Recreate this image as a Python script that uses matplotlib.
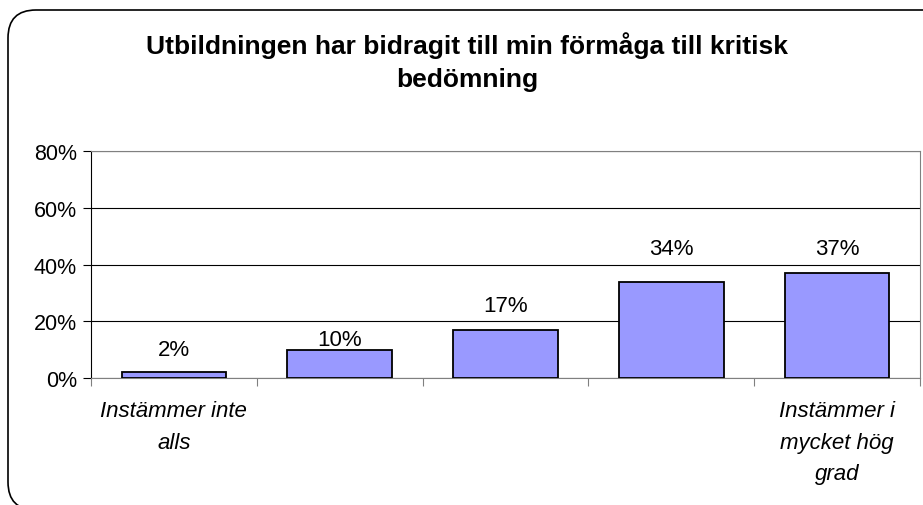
import matplotlib.pyplot as plt
from matplotlib.patches import FancyBboxPatch
from matplotlib.ticker import FixedLocator, PercentFormatter

# Survey answers, share of respondents (%)
categories = ["Instämmer inte\nalls", "", "", "", "Instämmer i\nmycket hög\ngrad"]
values = [2, 10, 17, 34, 37]
value_labels = ["2%", "10%", "17%", "34%", "37%"]
title = "Utbildningen har bidragit till min förmåga till kritisk\nbedömning"

# Label offsets above bar tops, in points (Excel placed them unevenly)
label_offsets = [9, 0, 10, 16, 10]

plt.rcParams['font.family'] = ['Liberation Sans', 'DejaVu Sans']

W, H = 923, 506
fig = plt.figure(figsize=(W / 100, H / 100), dpi=100)

# Rounded chart border, partly cut off on the right and bottom
border = FancyBboxPatch((8 / 100, -5 / 100), 9.6, (H - 11 + 5) / 100,
                        boxstyle="round,pad=0,rounding_size=0.28",
                        transform=fig.dpi_scale_trans, fill=False,
                        edgecolor='black', linewidth=1.2)
fig.patches.append(border)

ax = fig.add_axes([91 / W, 1 - 379 / H, (920 - 91) / W, (379 - 152) / H])

x = range(len(values))
ax.bar(x, values, width=0.63, color='#9999FF', edgecolor='black',
       linewidth=1.3, zorder=3)

for xi, v, lab, off in zip(x, values, value_labels, label_offsets):
    ax.annotate(lab, (xi, v), xytext=(0, off), textcoords='offset points',
                ha='center', va='bottom', fontsize=16)

ax.set_xlim(-0.5, len(values) - 0.5)
ax.set_ylim(0, 80)
ax.set_yticks([0, 20, 40, 60, 80])
ax.yaxis.set_major_formatter(PercentFormatter(decimals=0))
ax.grid(axis='y', color='black', linewidth=0.8, zorder=0)

# category ticks between bars, labels under bars
ax.xaxis.set_major_locator(FixedLocator([i - 0.5 for i in range(len(values) + 1)]))
ax.set_xticklabels([])
ax.set_xticks(list(x), minor=True)
ax.set_xticklabels(categories, minor=True, fontsize=16, style='italic',
                   linespacing=1.65)
ax.tick_params(axis='x', which='minor', length=0, pad=16)
ax.tick_params(axis='x', which='major', length=6, color='#808080')
ax.tick_params(axis='y', length=6, labelsize=15.5, pad=4)

for side in ['top', 'right', 'bottom']:
    ax.spines[side].set_color('#808080')
ax.spines['left'].set_color('black')

fig.text(467 / W, 1 - 62 / H, title, ha='center', va='center',
         fontsize=19, fontweight='bold', linespacing=1.5)

plt.savefig('out.png', dpi=100)
